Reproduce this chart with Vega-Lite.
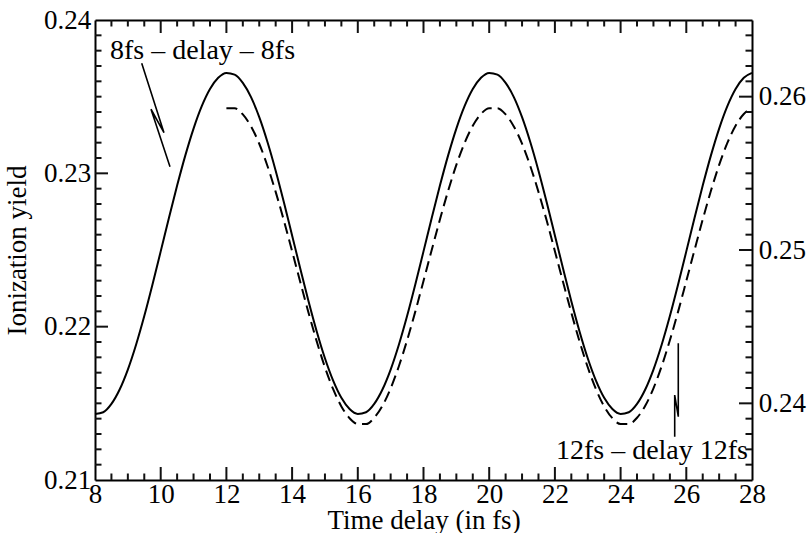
{
  "$schema": "https://vega.github.io/schema/vega-lite/v6.json",
  "width": 657,
  "height": 460,
  "autosize": {"type": "none"},
  "padding": {"left": 95, "top": 20, "right": 56, "bottom": 53},
  "background": "white",
  "config": {
    "view": {"stroke": null},
    "font": "Liberation Serif",
    "axis": {
      "grid": false,
      "domainColor": "black",
      "domainWidth": 2,
      "labelColor": "black",
      "titleColor": "black",
      "labelFont": "Liberation Serif",
      "titleFont": "Liberation Serif",
      "labelFontSize": 27,
      "titleFontSize": 27,
      "titleFontWeight": "normal",
      "labelFlush": false,
      "labelOverlap": false
    }
  },
  "datasets": {
    "solid": [
      {"t": 8, "v": 0.21431}, {"t": 8.25, "v": 0.21442}, {"t": 8.5, "v": 0.21496}, {"t": 8.75, "v": 0.2159},
      {"t": 9, "v": 0.2172}, {"t": 9.25, "v": 0.21882}, {"t": 9.5, "v": 0.22069}, {"t": 9.75, "v": 0.22275},
      {"t": 10, "v": 0.22491}, {"t": 10.25, "v": 0.22709}, {"t": 10.5, "v": 0.2292}, {"t": 10.75, "v": 0.23117},
      {"t": 11, "v": 0.23292}, {"t": 11.25, "v": 0.23438}, {"t": 11.5, "v": 0.2355}, {"t": 11.75, "v": 0.23623},
      {"t": 12, "v": 0.23655}, {"t": 12.25, "v": 0.23644}, {"t": 12.5, "v": 0.2359}, {"t": 12.75, "v": 0.23497},
      {"t": 13, "v": 0.23366}, {"t": 13.25, "v": 0.23204}, {"t": 13.5, "v": 0.23017}, {"t": 13.75, "v": 0.22811},
      {"t": 14, "v": 0.22595}, {"t": 14.25, "v": 0.22378}, {"t": 14.5, "v": 0.22166}, {"t": 14.75, "v": 0.21969},
      {"t": 15, "v": 0.21794}, {"t": 15.25, "v": 0.21648}, {"t": 15.5, "v": 0.21536}, {"t": 15.75, "v": 0.21463},
      {"t": 16, "v": 0.21431}, {"t": 16.25, "v": 0.21442}, {"t": 16.5, "v": 0.21496}, {"t": 16.75, "v": 0.2159},
      {"t": 17, "v": 0.2172}, {"t": 17.25, "v": 0.21882}, {"t": 17.5, "v": 0.22069}, {"t": 17.75, "v": 0.22275},
      {"t": 18, "v": 0.22491}, {"t": 18.25, "v": 0.22709}, {"t": 18.5, "v": 0.2292}, {"t": 18.75, "v": 0.23117},
      {"t": 19, "v": 0.23292}, {"t": 19.25, "v": 0.23438}, {"t": 19.5, "v": 0.2355}, {"t": 19.75, "v": 0.23623},
      {"t": 20, "v": 0.23655}, {"t": 20.25, "v": 0.23644}, {"t": 20.5, "v": 0.2359}, {"t": 20.75, "v": 0.23497},
      {"t": 21, "v": 0.23366}, {"t": 21.25, "v": 0.23204}, {"t": 21.5, "v": 0.23017}, {"t": 21.75, "v": 0.22811},
      {"t": 22, "v": 0.22595}, {"t": 22.25, "v": 0.22378}, {"t": 22.5, "v": 0.22166}, {"t": 22.75, "v": 0.21969},
      {"t": 23, "v": 0.21794}, {"t": 23.25, "v": 0.21648}, {"t": 23.5, "v": 0.21536}, {"t": 23.75, "v": 0.21463},
      {"t": 24, "v": 0.21431}, {"t": 24.25, "v": 0.21442}, {"t": 24.5, "v": 0.21496}, {"t": 24.75, "v": 0.2159},
      {"t": 25, "v": 0.2172}, {"t": 25.25, "v": 0.21882}, {"t": 25.5, "v": 0.22069}, {"t": 25.75, "v": 0.22275},
      {"t": 26, "v": 0.22491}, {"t": 26.25, "v": 0.22709}, {"t": 26.5, "v": 0.2292}, {"t": 26.75, "v": 0.23117},
      {"t": 27, "v": 0.23292}, {"t": 27.25, "v": 0.23438}, {"t": 27.5, "v": 0.2355}, {"t": 27.75, "v": 0.23623},
      {"t": 28, "v": 0.23655}
    ],
    "dashed": [
      {"t": 12, "v": 0.25925}, {"t": 12.25, "v": 0.25925}, {"t": 12.5, "v": 0.25884}, {"t": 12.75, "v": 0.25806},
      {"t": 13, "v": 0.25693}, {"t": 13.25, "v": 0.25548}, {"t": 13.5, "v": 0.25379}, {"t": 13.75, "v": 0.25192},
      {"t": 14, "v": 0.24992}, {"t": 14.25, "v": 0.2479}, {"t": 14.5, "v": 0.24591}, {"t": 14.75, "v": 0.24404},
      {"t": 15, "v": 0.24235}, {"t": 15.25, "v": 0.24092}, {"t": 15.5, "v": 0.2398}, {"t": 15.75, "v": 0.23903},
      {"t": 16, "v": 0.23865}, {"t": 16.25, "v": 0.23865}, {"t": 16.5, "v": 0.23906}, {"t": 16.75, "v": 0.23984},
      {"t": 17, "v": 0.24098}, {"t": 17.25, "v": 0.24242}, {"t": 17.5, "v": 0.24411}, {"t": 17.75, "v": 0.24598},
      {"t": 18, "v": 0.24798}, {"t": 18.25, "v": 0.25}, {"t": 18.5, "v": 0.25199}, {"t": 18.75, "v": 0.25386},
      {"t": 19, "v": 0.25555}, {"t": 19.25, "v": 0.25698}, {"t": 19.5, "v": 0.2581}, {"t": 19.75, "v": 0.25887},
      {"t": 20, "v": 0.25925}, {"t": 20.25, "v": 0.25925}, {"t": 20.5, "v": 0.25884}, {"t": 20.75, "v": 0.25806},
      {"t": 21, "v": 0.25693}, {"t": 21.25, "v": 0.25548}, {"t": 21.5, "v": 0.25379}, {"t": 21.75, "v": 0.25192},
      {"t": 22, "v": 0.24992}, {"t": 22.25, "v": 0.2479}, {"t": 22.5, "v": 0.24591}, {"t": 22.75, "v": 0.24404},
      {"t": 23, "v": 0.24235}, {"t": 23.25, "v": 0.24092}, {"t": 23.5, "v": 0.2398}, {"t": 23.75, "v": 0.23903},
      {"t": 24, "v": 0.23865}, {"t": 24.25, "v": 0.23865}, {"t": 24.5, "v": 0.23906}, {"t": 24.75, "v": 0.23984},
      {"t": 25, "v": 0.24098}, {"t": 25.25, "v": 0.24242}, {"t": 25.5, "v": 0.24411}, {"t": 25.75, "v": 0.24598},
      {"t": 26, "v": 0.24798}, {"t": 26.25, "v": 0.25}, {"t": 26.5, "v": 0.25199}, {"t": 26.75, "v": 0.25386},
      {"t": 27, "v": 0.25555}, {"t": 27.25, "v": 0.25698}, {"t": 27.5, "v": 0.2581}, {"t": 27.75, "v": 0.25887},
      {"t": 28, "v": 0.25925}
    ],
    "pointers": [
      {"g": "a", "o": 1, "t": 9.422, "v": 0.23718},
      {"g": "a", "o": 2, "t": 10.1, "v": 0.23265},
      {"g": "a", "o": 3, "t": 9.705, "v": 0.23418},
      {"g": "a", "o": 4, "t": 10.283, "v": 0.23043},
      {"g": "b", "o": 1, "t": 25.647, "v": 0.21282},
      {"g": "b", "o": 2, "t": 25.647, "v": 0.21554},
      {"g": "b", "o": 3, "t": 25.756, "v": 0.21413},
      {"g": "b", "o": 4, "t": 25.756, "v": 0.21892}
    ],
    "labelLeft": [{"label": "8fs – delay – 8fs", "t": 8.457, "v": 0.23744}],
    "labelRight": [{"label": "12fs – delay 12fs", "t": 27.878, "v": 0.21135}],
    "xMajor": [{"t": 10}, {"t": 12}, {"t": 14}, {"t": 16}, {"t": 18}, {"t": 20}, {"t": 22}, {"t": 24}, {"t": 26}],
    "xMinor": [{"t": 8.5}, {"t": 9}, {"t": 9.5}, {"t": 10.5}, {"t": 11}, {"t": 11.5}, {"t": 12.5}, {"t": 13}, {"t": 13.5}, {"t": 14.5}, {"t": 15}, {"t": 15.5}, {"t": 16.5}, {"t": 17}, {"t": 17.5}, {"t": 18.5}, {"t": 19}, {"t": 19.5}, {"t": 20.5}, {"t": 21}, {"t": 21.5}, {"t": 22.5}, {"t": 23}, {"t": 23.5}, {"t": 24.5}, {"t": 25}, {"t": 25.5}, {"t": 26.5}, {"t": 27}, {"t": 27.5}],
    "yLeftMajor": [{"v": 0.22}, {"v": 0.23}],
    "yLeftMinor": [{"v": 0.211}, {"v": 0.212}, {"v": 0.213}, {"v": 0.214}, {"v": 0.215}, {"v": 0.216}, {"v": 0.217}, {"v": 0.218}, {"v": 0.219}, {"v": 0.221}, {"v": 0.222}, {"v": 0.223}, {"v": 0.224}, {"v": 0.225}, {"v": 0.226}, {"v": 0.227}, {"v": 0.228}, {"v": 0.229}, {"v": 0.231}, {"v": 0.232}, {"v": 0.233}, {"v": 0.234}, {"v": 0.235}, {"v": 0.236}, {"v": 0.237}, {"v": 0.238}, {"v": 0.239}],
    "yRightMajor": [{"v": 0.24}, {"v": 0.25}, {"v": 0.26}],
    "yRightMinor": [{"v": 0.236}, {"v": 0.237}, {"v": 0.238}, {"v": 0.239}, {"v": 0.241}, {"v": 0.242}, {"v": 0.243}, {"v": 0.244}, {"v": 0.245}, {"v": 0.246}, {"v": 0.247}, {"v": 0.248}, {"v": 0.249}, {"v": 0.251}, {"v": 0.252}, {"v": 0.253}, {"v": 0.254}, {"v": 0.255}, {"v": 0.256}, {"v": 0.257}, {"v": 0.258}, {"v": 0.259}, {"v": 0.261}, {"v": 0.262}, {"v": 0.263}, {"v": 0.264}]
  },
  "layer": [
    {
      "layer": [
        {
          "data": {"name": "solid"},
          "mark": {"type": "line", "color": "black", "strokeWidth": 2, "interpolate": "monotone"},
          "encoding": {
            "x": {
              "field": "t", "type": "quantitative",
              "scale": {"domain": [8, 28], "nice": false, "zero": false},
              "axis": {
                "orient": "bottom",
                "values": [8, 10, 12, 14, 16, 18, 20, 22, 24, 26, 28],
                "format": "d",
                "ticks": false,
                "tickSize": 0,
                "labelPadding": 1.6,
                "labelFont": "Liberation Serif",
                "labelFontSize": 27,
                "labelColor": "black",
                "labelOverlap": false,
                "labelFlush": false,
                "domainColor": "black",
                "domainWidth": 2,
                "title": "Time delay (in fs)",
                "titleFont": "Liberation Serif",
                "titleFontSize": 27,
                "titleFontWeight": "normal",
                "titleColor": "black",
                "titleY": 48,
                "titleX": 328.5,
                "titleBaseline": "alphabetic",
                "titleAlign": "center"
              }
            },
            "y": {
              "field": "v", "type": "quantitative",
              "scale": {"domain": [0.21, 0.24], "nice": false, "zero": false},
              "axis": {
                "orient": "left",
                "values": [0.21, 0.22, 0.23, 0.24],
                "format": ".2f",
                "ticks": false,
                "tickSize": 0,
                "labelPadding": 4.3,
                "labelFont": "Liberation Serif",
                "labelFontSize": 27,
                "labelColor": "black",
                "labelOverlap": false,
                "labelFlush": false,
                "domainColor": "black",
                "domainWidth": 2,
                "title": "Ionization yield",
                "titleFont": "Liberation Serif",
                "titleFontSize": 27,
                "titleFontWeight": "normal",
                "titleColor": "black",
                "titleX": -70,
                "titleY": 230,
                "titleAngle": 270,
                "titleAlign": "center",
                "titleBaseline": "alphabetic"
              }
            }
          }
        },
        {
          "data": {"name": "xMajor"},
          "mark": {"type": "rule", "color": "#111111", "strokeWidth": 2, "y2Offset": -13},
          "encoding": {
            "x": {"field": "t", "type": "quantitative"},
            "y": {"datum": 0.21, "type": "quantitative"},
            "y2": {"datum": 0.21}
          }
        },
        {
          "data": {"name": "xMinor"},
          "mark": {"type": "rule", "color": "#111111", "strokeWidth": 2, "y2Offset": -6.5},
          "encoding": {
            "x": {"field": "t", "type": "quantitative"},
            "y": {"datum": 0.21, "type": "quantitative"},
            "y2": {"datum": 0.21}
          }
        },
        {
          "data": {"name": "xMajor"},
          "mark": {"type": "rule", "color": "#111111", "strokeWidth": 2, "y2Offset": 13},
          "encoding": {
            "x": {"field": "t", "type": "quantitative"},
            "y": {"datum": 0.24, "type": "quantitative"},
            "y2": {"datum": 0.24}
          }
        },
        {
          "data": {"name": "xMinor"},
          "mark": {"type": "rule", "color": "#111111", "strokeWidth": 2, "y2Offset": 6.5},
          "encoding": {
            "x": {"field": "t", "type": "quantitative"},
            "y": {"datum": 0.24, "type": "quantitative"},
            "y2": {"datum": 0.24}
          }
        },
        {
          "data": {"name": "yLeftMajor"},
          "mark": {"type": "rule", "color": "#111111", "strokeWidth": 2, "x2Offset": 13},
          "encoding": {
            "y": {"field": "v", "type": "quantitative"},
            "x": {"datum": 8, "type": "quantitative"},
            "x2": {"datum": 8}
          }
        },
        {
          "data": {"name": "yLeftMinor"},
          "mark": {"type": "rule", "color": "#111111", "strokeWidth": 2, "x2Offset": 6.5},
          "encoding": {
            "y": {"field": "v", "type": "quantitative"},
            "x": {"datum": 8, "type": "quantitative"},
            "x2": {"datum": 8}
          }
        },
        {
          "data": {"name": "pointers"},
          "mark": {"type": "line", "color": "black", "strokeWidth": 1.6},
          "encoding": {
            "x": {"field": "t", "type": "quantitative"},
            "y": {"field": "v", "type": "quantitative"},
            "detail": {"field": "g"},
            "order": {"field": "o", "type": "quantitative"}
          }
        },
        {
          "data": {"name": "labelLeft"},
          "mark": {"type": "text", "align": "left", "baseline": "alphabetic", "fontSize": 28, "font": "Liberation Serif", "color": "black"},
          "encoding": {
            "x": {"field": "t", "type": "quantitative"},
            "y": {"field": "v", "type": "quantitative"},
            "text": {"field": "label"}
          }
        },
        {
          "data": {"name": "labelRight"},
          "mark": {"type": "text", "align": "right", "baseline": "alphabetic", "fontSize": 28, "font": "Liberation Serif", "color": "black"},
          "encoding": {
            "x": {"field": "t", "type": "quantitative"},
            "y": {"field": "v", "type": "quantitative"},
            "text": {"field": "label"}
          }
        }
      ]
    },
    {
      "layer": [
        {
          "data": {"name": "dashed"},
          "mark": {"type": "line", "color": "black", "strokeWidth": 2, "strokeDash": [11, 6], "interpolate": "monotone"},
          "encoding": {
            "x": {
              "field": "t", "type": "quantitative",
              "scale": {"domain": [8, 28], "nice": false, "zero": false},
              "axis": {
                "orient": "top",
                "values": [8, 28],
                "ticks": false,
                "labels": false,
                "domainColor": "black",
                "domainWidth": 2,
                "title": null
              }
            },
            "y": {
              "field": "v", "type": "quantitative",
              "scale": {"domain": [0.235, 0.265], "nice": false, "zero": false},
              "axis": {
                "orient": "right",
                "values": [0.24, 0.25, 0.26],
                "format": ".2f",
                "ticks": false,
                "tickSize": 0,
                "labelPadding": 6.3,
                "labelFont": "Liberation Serif",
                "labelFontSize": 27,
                "labelColor": "black",
                "labelOverlap": false,
                "labelFlush": false,
                "domainColor": "black",
                "domainWidth": 2,
                "title": null
              }
            }
          }
        },
        {
          "data": {"name": "yRightMajor"},
          "mark": {"type": "rule", "color": "#111111", "strokeWidth": 2, "x2Offset": -13},
          "encoding": {
            "y": {"field": "v", "type": "quantitative"},
            "x": {"datum": 28, "type": "quantitative"},
            "x2": {"datum": 28}
          }
        },
        {
          "data": {"name": "yRightMinor"},
          "mark": {"type": "rule", "color": "#111111", "strokeWidth": 2, "x2Offset": -6.5},
          "encoding": {
            "y": {"field": "v", "type": "quantitative"},
            "x": {"datum": 28, "type": "quantitative"},
            "x2": {"datum": 28}
          }
        }
      ]
    }
  ],
  "resolve": {
    "scale": {"x": "independent", "y": "independent"},
    "axis": {"x": "independent", "y": "independent"}
  }
}
